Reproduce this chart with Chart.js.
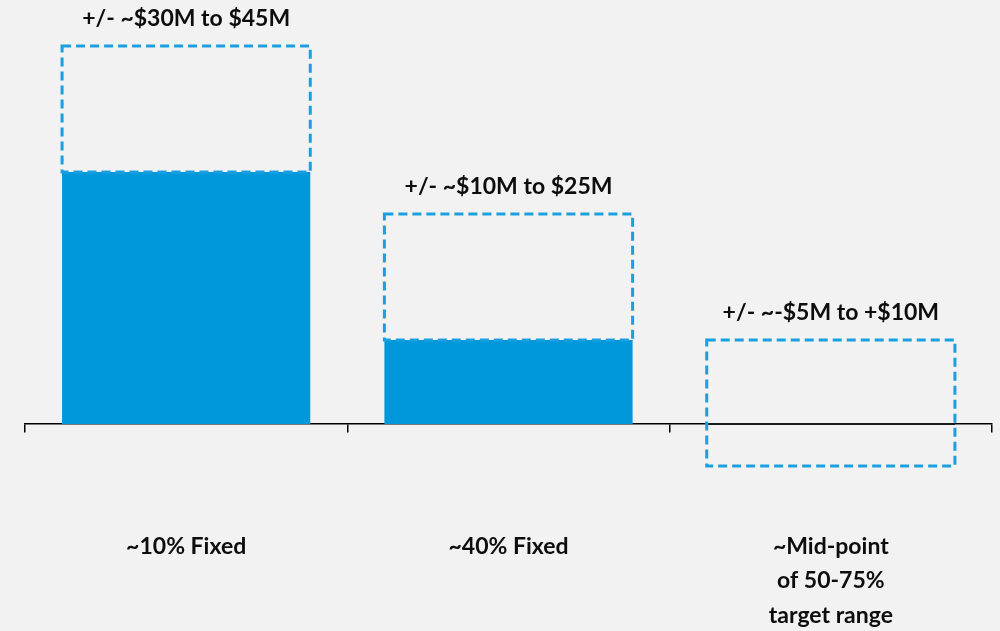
<!DOCTYPE html>
<html lang="en">
<head>
  <meta charset="UTF-8">
  <title>Range by hedge ratio</title>
  <script src="https://cdn.jsdelivr.net/npm/chart.js"></script>
  <style>
    html, body {
      margin: 0;
      padding: 0;
      background: #f2f2f2;
    }
    .chart-container {
      width: 1000px;
      height: 631px;
    }
  </style>
</head>
<body>
  <div class="chart-container">
    <canvas id="rangeChart"></canvas>
  </div>

  <script>
    // Data
    const categories = [
      '~10% Fixed',
      '~40% Fixed',
      ['~Mid-point', 'of 50-75%', 'target range']
    ]
    const baseValues = [30, 10, 0]
    const rangeValues = [[30, 45], [10, 25], [-5, 10]]
    const rangeLabels = [
      '+/- ~$30M to $45M',
      '+/- ~$10M to $25M',
      '+/- ~-$5M to +$10M'
    ]

    const blue = '#0098da'
    const dashBlue = '#1a9fe0'
    const fontFamily = 'Lato, "Open Sans", sans-serif'

    // Bar elements can't do dashed borders, so stroke them here
    const dashedBoxes = {
      id: 'dashedBoxes',
      afterDatasetsDraw(chart) {
        const ctx = chart.ctx
        const meta = chart.getDatasetMeta(1)
        ctx.save()
        meta.data.forEach((bar, i) => {
          const { x, y, base, width } = bar.getProps(['x', 'y', 'base', 'width'], true)
          const top = Math.min(y, base)
          const h = Math.abs(base - y)
          ctx.setLineDash([9, 5])
          ctx.lineWidth = 3
          ctx.strokeStyle = dashBlue
          ctx.strokeRect(x - width / 2, top, width, h)

          ctx.setLineDash([])
          ctx.fillStyle = '#0d0d0d'
          ctx.font = 'bold 23px ' + fontFamily
          ctx.textAlign = 'center'
          ctx.textBaseline = 'middle'
          ctx.fillText(rangeLabels[i], x, top - 27)
        })
        ctx.restore()
      }
    }

    new Chart(document.getElementById('rangeChart'), {
      type: 'bar',
      data: {
        labels: categories,
        datasets: [{
          data: baseValues,
          backgroundColor: [blue, blue, '#1a1a1a'],
          minBarLength: 2,
          borderWidth: 0
        }, {
          data: rangeValues,
          backgroundColor: 'rgba(0,0,0,0)',
          borderWidth: 0
        }]
      },
      options: {
        responsive: true,
        maintainAspectRatio: false,
        animation: false,
        layout: {
          padding: { left: 25, right: 8, top: 4, bottom: 165 }
        },
        datasets: {
          bar: {
            grouped: false,
            categoryPercentage: 1,
            barPercentage: 0.77
          }
        },
        plugins: {
          legend: { display: false },
          tooltip: { enabled: false }
        },
        scales: {
          x: {
            position: { y: 0 },
            grid: {
              display: true,
              offset: true,
              drawOnChartArea: false,
              drawTicks: true,
              tickLength: 8,
              color: '#000',
              lineWidth: 1.5
            },
            border: {
              display: true,
              color: '#000',
              width: 1.5
            },
            ticks: {
              color: '#0d0d0d',
              padding: 98,
              font: {
                family: fontFamily,
                size: 23,
                weight: 'bold',
                lineHeight: 1.48
              }
            }
          },
          y: {
            display: false,
            min: -5,
            max: 50
          }
        }
      },
      plugins: [dashedBoxes]
    })
  </script>
</body>
</html>
